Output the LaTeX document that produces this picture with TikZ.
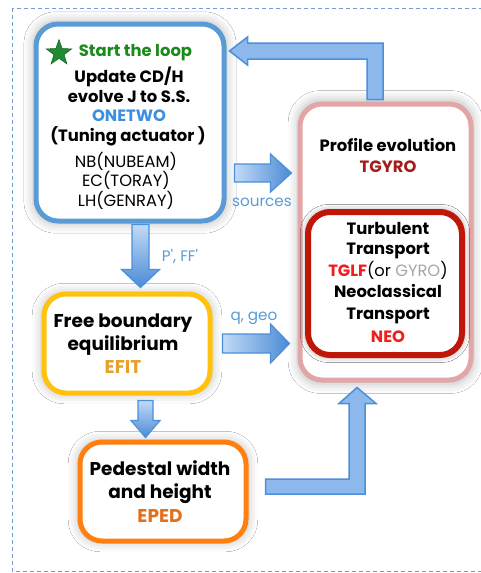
\documentclass[tikz,border=0pt]{standalone}
\usepackage{fontspec}
\setmainfont{Poppins}
\usetikzlibrary{calc,shapes.geometric,shadows.blur}
\definecolor{frameblue}{HTML}{6E9ED6}
\definecolor{boxblue}{HTML}{5B9BD5}
\definecolor{boxpink}{HTML}{E3A6A6}
\definecolor{boxred}{HTML}{C0160A}
\definecolor{boxyellow}{HTML}{FFC20E}
\definecolor{boxorange}{HTML}{FF7F10}
\definecolor{txtgreen}{HTML}{1A8A1A}
\definecolor{stargreen}{HTML}{1E8C32}
\definecolor{txtblue}{HTML}{3D8FE0}
\definecolor{txtdarkred}{HTML}{A51C1C}
\definecolor{txtred}{HTML}{F21C1C}
\definecolor{txtgray}{HTML}{A6A6A6}
\definecolor{txtefit}{HTML}{E8A02C}
\definecolor{txteped}{HTML}{E0701A}
\definecolor{lblblue}{HTML}{5B9BD5}
\definecolor{arrowlight}{HTML}{C2DAF6}
\definecolor{arrowdark}{HTML}{4A8BD6}
\definecolor{arrowfill}{HTML}{8DB8EC}
\definecolor{arrowline}{HTML}{4A90DC}
\tikzset{
  box/.style={draw, rounded corners=22pt, line width=5pt, fill=white, inner sep=0pt,
    blur shadow={shadow xshift=0pt, shadow yshift=0pt, shadow blur radius=9pt, shadow opacity=25, shadow scale=1.03}},
  ln/.style={inner sep=0pt, text height=12pt, text depth=3pt, font=\fontsize{16.4}{19}\selectfont\bfseries},
  lnreg/.style={inner sep=0pt, text height=12pt, text depth=3pt, font=\fontsize{16.3}{19}\selectfont},
  lnbig/.style={inner sep=0pt, text height=13pt, text depth=3pt, font=\fontsize{18.5}{21}\selectfont\bfseries},
  lbl/.style={inner sep=0pt, text height=11pt, text depth=3pt, text=lblblue, font=\fontsize{15.2}{17}\selectfont},
  harrowsh/.style={left color=arrowlight, right color=arrowdark, draw=arrowline, line width=1.2pt, line join=miter},
  varrowsh/.style={top color=arrowlight, bottom color=arrowdark, draw=arrowline, line width=1.2pt, line join=miter},
  bentarrow/.style={fill=arrowfill, draw=arrowline, line width=1.5pt, line join=miter},
}
% horizontal block arrow: start, end, shaft half, head half, head length
\newcommand\hblockarrow[5]{%
  \path[harrowsh] let \p1=#1, \p2=#2 in
    (\x1,\y1+#3pt) -- (\x2-#5pt,\y1+#3pt) -- (\x2-#5pt,\y1+#4pt) -- (\x2,\y1)
    -- (\x2-#5pt,\y1-#4pt) -- (\x2-#5pt,\y1-#3pt) -- (\x1,\y1-#3pt) -- cycle;}
% vertical (downward) block arrow
\newcommand\vblockarrow[5]{%
  \path[varrowsh] let \p1=#1, \p2=#2 in
    (\x1-#3pt,\y1) -- (\x1-#3pt,\y2+#5pt) -- (\x1-#4pt,\y2+#5pt) -- (\x1,\y2)
    -- (\x1+#4pt,\y2+#5pt) -- (\x1+#3pt,\y2+#5pt) -- (\x1+#3pt,\y1) -- cycle;}
\begin{document}
\begin{tikzpicture}[x=1pt,y=1pt]
\useasboundingbox (0,0) rectangle (481,-573);
\fill[white] (0,0) rectangle (481,-573);
% dashed frame
\draw[frameblue, line width=1pt, dash pattern=on 4pt off 3pt] (12,-8) rectangle (500,-571);

% boxes
\node[box, draw=boxblue, minimum width=188pt, minimum height=197pt] (onetwo) at (130,-122.5) {};
\node[box, draw=boxpink, minimum width=171pt, minimum height=276pt] (tgyro) at (385.5,-242) {};
\node[box, draw=boxred, line width=6pt, minimum width=154pt, minimum height=143pt,
  blur shadow={shadow xshift=0pt, shadow yshift=0pt, shadow blur radius=6pt, shadow opacity=20, shadow scale=1.02}] (transport) at (385,-283.5) {};
\node[box, draw=boxyellow, minimum width=166pt, minimum height=99pt] (efit) at (127,-343.5) {};
\node[box, draw=boxorange, minimum width=166pt, minimum height=99pt] (eped) at (163,-491.5) {};

% ONETWO text
\node[star, star points=5, star point ratio=2.5, fill=stargreen, draw=stargreen!70!black, line width=0.5pt, minimum size=27pt, inner sep=0pt] (star) at (59,-53) {};
\node[ln, text=txtgreen] (start) at (135.5,-52) {Start the loop};
\node[ln] (o1) at (129,-78) {Update CD/H};
\node[ln] (o2) at (129,-98) {evolve J to S.S.};
\node[ln, text=txtblue] (o3) at (129,-117) {ONETWO};
\node[ln] (o4) at (128,-137) {(Tuning actuator )};
\node[lnreg] (o5) at (126,-163) {NB(NUBEAM)};
\node[lnreg] (o6) at (126,-182) {EC(TORAY)};
\node[lnreg] (o7) at (126,-202) {LH(GENRAY)};

% TGYRO text
\node[ln] (p1) at (388,-147) {Profile evolution};
\node[ln, text=txtdarkred] (p2) at (388,-168) {TGYRO};

% transport text
\node[ln] (r1) at (388,-230) {Turbulent};
\node[ln] (r2) at (388,-250) {Transport};
\node[lnreg] (r3) at (388,-272) {\textbf{\color{txtred}TGLF}(or {\color{txtgray}GYRO})};
\node[ln] (r4) at (388,-293) {Neoclassical};
\node[ln] (r5) at (388,-315) {Transport};
\node[ln, text=txtred] (r6) at (388,-338) {NEO};

% EFIT text
\node[lnbig] (e1) at (123,-322) {Free boundary};
\node[lnbig] (e2) at (123,-345) {equilibrium};
\node[lnbig, text=txtefit] (e3) at (123,-368) {EFIT};

% EPED text
\node[lnbig] (d1) at (160,-470) {Pedestal width};
\node[lnbig] (d2) at (160,-493) {and height};
\node[lnbig, text=txteped] (d3) at (160,-517) {EPED};

% arrows
% TGYRO -> ONETWO (bent, top)
\path[bentarrow] let \p1=(tgyro.north), \p2=(onetwo.east) in
  (\x1-2.5pt,\y1+2pt) -- (\x1-2.5pt,\y2+79.5pt) -- (\x2+21pt,\y2+79.5pt) -- (\x2+21pt,\y2+85.5pt)
  -- (\x2+3pt,\y2+71.5pt) -- (\x2+21pt,\y2+57.5pt) -- (\x2+21pt,\y2+63.5pt)
  -- (\x1-18.5pt,\y2+63.5pt) -- (\x1-18.5pt,\y1+2pt) -- cycle;
% ONETWO -> TGYRO (sources)
\hblockarrow{($(onetwo.east)+(8,-50.5)$)}{($(tgyro.west)+(-6,0)$)}{9}{19}{21}
% EFIT -> TGYRO (q, geo)
\hblockarrow{($(efit.east)+(10,0)$)}{($(tgyro.west)+(-8,0)$)}{9.5}{19.5}{19}
% ONETWO -> EFIT (P', FF')
\vblockarrow{($(onetwo.south)+(10.5,-1)$)}{($(efit.north)+(0,4)$)}{8.5}{19}{18}
% EFIT -> EPED
\vblockarrow{($(efit.south)+(18.5,-5)$)}{($(eped.north)+(0,2)$)}{7.5}{14.5}{17}
% EPED -> TGYRO (bent, bottom)
\path[bentarrow] let \p1=(eped.east), \p2=(tgyro.south) in
  (\x1+17pt,\y1+12.5pt) -- (\x2-36.5pt,\y1+12.5pt) -- (\x2-36.5pt,\y2-21pt) -- (\x2-46.5pt,\y2-21pt)
  -- (\x2-28.5pt,\y2-5pt) -- (\x2-9.5pt,\y2-21pt) -- (\x2-20.5pt,\y2-21pt)
  -- (\x2-20.5pt,\y1-2.5pt) -- (\x1+17pt,\y1-2.5pt) -- cycle;

% labels
\node[lbl] (lsrc) at (262,-202) {sources};
\node[lbl] (lp) at (180,-257) {P\textquotesingle, FF\textquotesingle};
\node[lbl] (lq) at (254,-316) {q, geo};
\end{tikzpicture}
\end{document}
